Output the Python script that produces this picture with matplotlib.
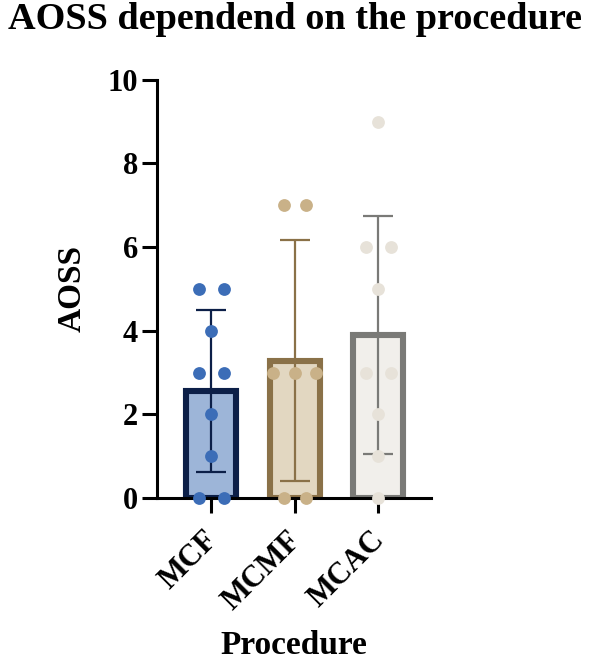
import numpy as np
import matplotlib.pyplot as plt
import matplotlib.transforms as mtransforms

plt.rcParams['font.family'] = ['Liberation Serif', 'DejaVu Serif']
plt.rcParams['font.weight'] = 'bold'

groups = ['MCF', 'MCMF', 'MCAC']
mcf = [5, 5, 4, 3, 3, 2, 1, 0, 0]
mcmf = [7, 7, 3, 3, 3, 0, 0]
mcac = [9, 6, 6, 5, 3, 3, 2, 1, 0]
# horizontal spread of the points inside each bar (in bar units)
mcf_off = [-0.15, 0.15, 0, -0.15, 0.15, 0, 0, -0.15, 0.15]
mcmf_off = [-0.13, 0.13, -0.26, 0, 0.26, -0.13, 0.13]
mcac_off = [0, -0.15, 0.15, 0, -0.15, 0.15, 0, 0, 0]

data = [mcf, mcmf, mcac]
offsets = [mcf_off, mcmf_off, mcac_off]
fills = ['#9db5d8', '#e2d7c1', '#f1efeb']
edges = ['#0c1f48', '#8a7148', '#7a7a77']
dots = ['#3c6db7', '#c9b188', '#e7e2d9']

fig = plt.figure(figsize=(5.91, 6.64), dpi=100)
ax = fig.add_axes([0.266, 0.25, 0.463, 0.63])

x = np.arange(len(groups))
means = [np.mean(d) for d in data]
sds = [np.std(d, ddof=1) for d in data]

for i in range(len(groups)):
    ax.bar(x[i], means[i], width=0.6, color=fills[i], edgecolor=edges[i],
           linewidth=4.4, zorder=2)
    ax.errorbar(x[i], means[i], yerr=sds[i], color=edges[i], elinewidth=1.6,
                capsize=10.5, capthick=1.6, zorder=3)
    ax.scatter(x[i] + np.array(offsets[i]), data[i], s=85, color=dots[i],
               zorder=4, clip_on=False, linewidths=0)

ax.set_xlim(-0.647, 2.63)
ax.set_ylim(0, 10)
ax.set_yticks([0, 2, 4, 6, 8, 10])
ax.set_xticks(x)
ax.set_xticklabels(groups, rotation=45, ha='right', rotation_mode='anchor')
ax.tick_params(axis='both', labelsize=22, width=2.2, length=11, pad=3)
ax.tick_params(axis='x', pad=8)
shift = mtransforms.ScaledTranslation(-6 / 72, -1 / 72, fig.dpi_scale_trans)
for lab in ax.get_xticklabels():
    lab.set_transform(lab.get_transform() + shift)
for s in ['top', 'right']:
    ax.spines[s].set_visible(False)
for s in ['left', 'bottom']:
    ax.spines[s].set_linewidth(2.2)

ax.set_ylabel('AOSS', fontsize=24, fontweight='bold', labelpad=14)
ax.set_xlabel('Procedure', fontsize=24, fontweight='bold', labelpad=10)
fig.text(0.5, 0.997, 'AOSS dependend on the procedure', ha='center', va='top',
         fontsize=27.5, fontweight='bold')

fig.savefig('out.png', dpi=100)
